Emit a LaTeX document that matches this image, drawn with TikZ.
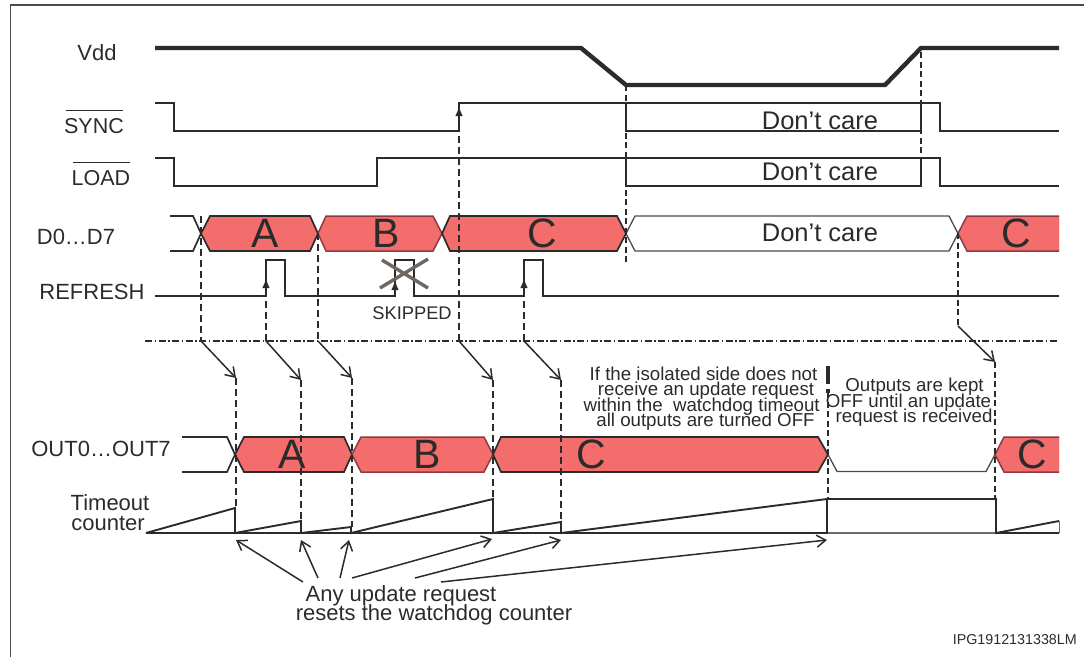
\documentclass[tikz,border=0pt]{standalone}
\usepackage{fontspec}
\setmainfont{Liberation Sans}
\usetikzlibrary{arrows.meta}
\definecolor{ink}{HTML}{2B2B2B}
\definecolor{busred}{HTML}{F26D6B}
\definecolor{busedge}{HTML}{8E3A42}
\definecolor{crossgrey}{HTML}{6E6660}
\tikzset{
  sig/.style={draw=ink,line width=1.7pt,line join=miter},
  vddline/.style={draw=ink,line width=4.4pt,line join=miter},
  busA/.style={draw=ink,fill=busred,line width=1.7pt},
  busB/.style={draw=busedge,fill=busred,line width=1.5pt},
  busW/.style={draw=ink!85,line width=1.3pt},
  guide/.style={draw=ink,line width=1.8pt,dash pattern=on 7pt off 4pt},
  thinguide/.style={draw=ink,line width=1.4pt,dash pattern=on 6pt off 3.5pt},
  openarrow/.style={draw=ink,line width=1.5pt,-{Straight Barb[length=9pt,width=12pt,line width=1.5pt]}},
  solidarrow/.style={draw=ink,line width=1.5pt,-{Latex[length=10pt,width=7.5pt]}},
  lab/.style={text=ink,inner sep=0pt,font=\fontsize{22}{22}\selectfont},
  biglet/.style={text=ink,inner sep=0pt,font=\fontsize{41}{41}\selectfont},
  dc/.style={text=ink,inner sep=0pt,font=\fontsize{25.5}{25.5}\selectfont},
  note/.style={text=ink,inner sep=0pt,anchor=base,font=\fontsize{18.7}{18.7}\selectfont},
}
\begin{document}
\begin{tikzpicture}[x=1pt,y=-1pt]
\useasboundingbox (0,0) rectangle (1084,657);
% frame
\draw[ink!85,line width=1.4pt] (10.5,657) -- (10.5,5) -- (1084,5);
% Vdd
\draw[vddline] (155,48) -- (581,48) -- (626,85) -- (885,85) -- (921,48) -- (1059,48);
% SYNC
\draw[sig] (155,103) -- (174,103) -- (174,131) -- (459,131) -- (459,103) -- (940,103) -- (940,131) -- (1059,131);
\draw[sig] (626,103) -- (626,131) -- (921,131) -- (921,103);
% LOAD
\draw[sig] (155,158) -- (174,158) -- (174,186) -- (377,186) -- (377,158) -- (940,158) -- (940,186) -- (1059,186);
\draw[sig] (626,158) -- (626,186) -- (921,186) -- (921,158);
% D bus
\draw[sig] (170,216) -- (193,216) -- (201,233.5) -- (193,251) -- (170,251);
\draw[busW] (626,233.5) -- (635,216) -- (949,216) -- (958,233.5) -- (949,251) -- (635,251) -- cycle;
\draw[busA] (201,233.5) -- (210,216) -- (310,216) -- (318,233.5) -- (310,251) -- (210,251) -- cycle;
\draw[busB] (318,233.5) -- (326,216) -- (433,216) -- (442,233.5) -- (433,251) -- (326,251) -- cycle;
\draw[busA] (442,233.5) -- (450,216) -- (617,216) -- (626,233.5) -- (617,251) -- (450,251) -- cycle;
\fill[busred] (958,233.5) -- (967,216) -- (1059,216) -- (1059,251) -- (967,251) -- cycle;
\draw[busB] (1059,216) -- (967,216) -- (958,233.5) -- (967,251) -- (1059,251);
% REFRESH
\draw[sig] (155,296) -- (266,296) -- (266,260) -- (285,260) -- (285,296) -- (395,296) -- (395,260) -- (414,260) -- (414,296) -- (524,296) -- (524,260) -- (543,260) -- (543,296) -- (1059,296);
% skipped cross
\draw[draw=crossgrey,line width=3.4pt] (382,260) -- (428,288) (428,259) -- (380,288);
% dash-dot separator
\draw[ink,line width=1.5pt,dash pattern=on 7pt off 2.5pt on 1.5pt off 2.5pt] (145,341) -- (1059,341);
% guides, upper part
\draw[guide] (201,216) -- (201,341);
\draw[guide] (318,233) -- (318,341);
\draw[guide] (266,341) -- (266,296);
\draw[guide] (459,341) -- (459,125);
\draw[guide] (524,341) -- (524,296);
\draw[thinguide] (626,85) -- (626,262);
\draw[thinguide] (921,52) -- (921,186);
\draw[thinguide] (958,233) -- (958,326);
\draw[solidarrow] (266,296) -- (266,278);
\draw[solidarrow] (395,296) -- (395,280);
\draw[solidarrow] (524,296) -- (524,278);
\draw[solidarrow] (459,131) -- (459,106);
% slanted arrows
\draw[openarrow] (201,341) -- (236,378);
\draw[openarrow] (266,341) -- (301,380);
\draw[openarrow] (318,341) -- (352,378);
\draw[openarrow] (459,341) -- (493,380);
\draw[openarrow] (524,341) -- (561,380);
\draw[openarrow] (958,326) -- (995,362);
% OUT bus
\draw[sig] (182,437) -- (227,437) -- (235,454.5) -- (227,472) -- (182,472);
\draw[busA] (235,454.5) -- (244,437) -- (344,437) -- (352,454.5) -- (344,472) -- (244,472) -- cycle;
\draw[busB] (352,454.5) -- (361,437) -- (484,437) -- (493,454.5) -- (484,472) -- (361,472) -- cycle;
\draw[busA] (493,454.5) -- (501,437) -- (818,437) -- (828,454.5) -- (818,472) -- (501,472) -- cycle;
\draw[busW] (828,454.5) -- (837,471.5) -- (986,471.5) -- (995,454.5);
\fill[busred] (995,454.5) -- (1004,437) -- (1059,437) -- (1059,472) -- (1004,472) -- cycle;
\draw[busB] (1059,437) -- (1004,437) -- (995,454.5) -- (1004,472) -- (1059,472);
% Timeout counter
\draw[sig,line width=2pt] (146,533) -- (828,533);
\draw[ink!70,line width=1.5pt] (828,533) -- (996,533);
\draw[sig,line width=2pt] (996,533) -- (1059,533);
\draw[sig,line width=1.9pt] (146,533) -- (235,508) -- (235,533) -- (301,521) -- (301,533) -- (351,527) -- (351,533) -- (493,499) -- (493,533) -- (561,522) -- (561,533) -- (827,499) -- (827,533);
\draw[sig,line width=1.9pt] (827,499) -- (997,499) -- (996,499) -- (996,533) -- (1059,521);
\draw[ink!70,line width=1pt] (1059,521) -- (1059,533);
% guides, lower part
\draw[guide] (236,378) -- (236,508);
\draw[guide] (301,380) -- (301,521);
\draw[guide] (352,378) -- (352,527);
\draw[guide] (493,380) -- (493,499);
\draw[guide] (561,380) -- (561,522);
\draw[thinguide] (828,392) -- (828,499);
\draw[draw=ink,line width=3.2pt] (828,366) -- (828,384);
\draw[draw=ink,line width=3.2pt] (828,389) -- (828,393);
\draw[thinguide] (995,362) -- (995,499);
% reset arrows
\draw[openarrow] (303,582) -- (236,540);
\draw[openarrow] (318,578) -- (301,540);
\draw[openarrow] (340,578) -- (349,540);
\draw[openarrow] (352,578) -- (492,539);
\draw[openarrow] (415,578) -- (561,540);
\draw[openarrow] (441,582) -- (827,540);
% labels
\node[lab] (vdd) at (97,53) {Vdd};
\node[lab,font=\fontsize{21.5}{21.5}\selectfont] (sync) at (94,126) {SYNC};
\draw[ink,line width=1pt] (66,110.5) -- (123,110.5);
\node[lab,font=\fontsize{21.5}{21.5}\selectfont] (load) at (101,178) {LOAD};
\draw[ink,line width=1pt] (73,162) -- (130,162);
\node[lab] (d07) at (76,237) {D0…D7};
\node[lab] (refresh) at (92,292) {REFRESH};
\node[text=ink,inner sep=0pt,font=\fontsize{18.3}{18.3}\selectfont] (skipped) at (412,313) {SKIPPED};
\node[lab] (outs) at (101,449) {OUT0…OUT7};
\node[lab] (tc1) at (110,503) {Timeout};
\node[lab] (tc2) at (108,523) {counter};
\node[dc] (dc1) at (820,121) {Don’t care};
\node[dc] (dc2) at (820,172) {Don’t care};
\node[dc] (dc3) at (820,233) {Don’t care};
\node[biglet] (da) at (265,233) {A};
\node[biglet] (db) at (386,233) {B};
\node[biglet] (dc) at (542,233) {C};
\node[biglet] (dd) at (1016,233) {C};
\node[biglet] (oa) at (292,454) {A};
\node[biglet] (ob) at (427,454) {B};
\node[biglet] (oc) at (591,454) {C};
\node[biglet] (od) at (1032,454) {C};
\node[note] (na) at (703.5,380) {If the isolated side does not};
\node[note] (nb) at (706,395.7) {receive an update request};
\node[note] (nc) at (701.7,411.3) {within the \ watchdog timeout};
\node[note] (nd) at (705.5,426.8) {all outputs are turned OFF};
\node[note] (ne) at (914.5,391.7) {Outputs are kept};
\node[note] (nf) at (908.5,407.4) {OFF until an update};
\node[note] (ng) at (914,422.8) {request is received};
\node[text=ink,inner sep=0pt,font=\fontsize{22}{22}\selectfont] (any1) at (401,596) {Any update request};
\node[text=ink,inner sep=0pt,font=\fontsize{22}{22}\selectfont] (any2) at (434,615) {resets the watchdog counter};
\node[text=ink,inner sep=0pt,anchor=east,font=\fontsize{14.3}{14.3}\selectfont] (ref) at (1077,640) {IPG1912131338LM};
\end{tikzpicture}
\end{document}
